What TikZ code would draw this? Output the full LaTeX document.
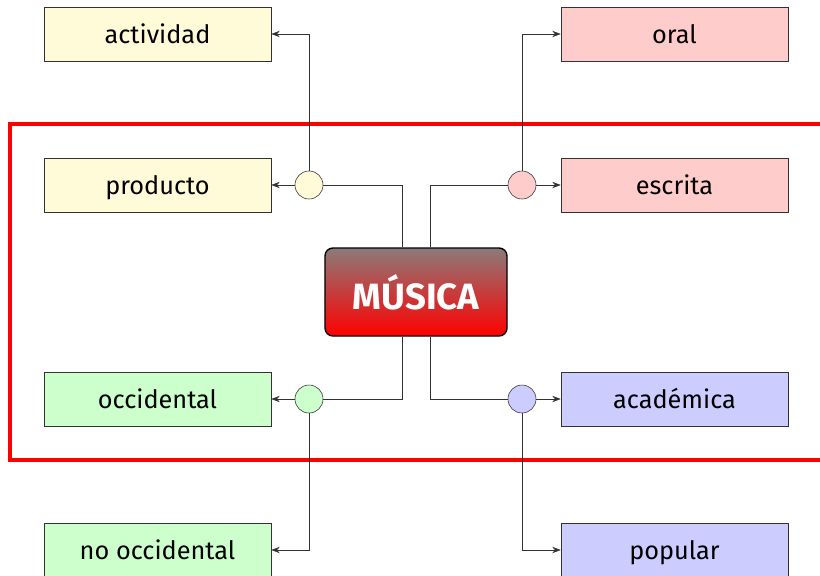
\documentclass[tikz,border=0pt]{standalone}
\usepackage{fontspec}
\setmainfont{Fira Sans}
\usepackage{tikz}
\usetikzlibrary{arrows.meta, positioning}

\definecolor{amarillo}{RGB}{255,250,215}
\definecolor{rosa}{RGB}{255,204,204}
\definecolor{verde}{RGB}{204,255,204}
\definecolor{azul}{RGB}{204,204,255}
\definecolor{gristop}{RGB}{140,122,122}
\definecolor{linea}{RGB}{50,50,50}

\tikzset{
    caja/.style={draw=linea, minimum width=5.675cm, minimum height=1.35cm,
        font=\fontsize{18}{21}\selectfont, inner sep=0pt,
        text height=13pt, text depth=0pt},
    nudo/.style={draw=linea, circle, minimum size=0.7cm, inner sep=0pt},
    flecha/.style={-{Stealth[length=6pt,width=4.5pt]}, draw=linea},
    enlace/.style={draw=linea},
}

\begin{document}
\begin{tikzpicture}[x=0.025cm, y=-0.025cm]
    \useasboundingbox (0,0) rectangle (820,575);
    % marco rojo
    \draw[red, line width=2.2pt] (10,124) rectangle (860,460);
    % nodo central
    \node[draw=black, line width=1pt, rounded corners=0.2cm,
        top color=gristop, bottom color=red, text=white,
        minimum width=4.55cm, minimum height=2.2cm,
        font=\fontsize{26}{30}\selectfont\bfseries] (musica) at (416,292) {MÚSICA};
    % cajas izquierda
    \node[caja, fill=amarillo] (actividad) at (157.5,34) {actividad};
    \node[caja, fill=amarillo] (producto) at (157.5,185) {producto};
    \node[caja, fill=verde] (occidental) at (157.5,399) {occidental};
    \node[caja, fill=verde] (noocc) at (157.5,550) {no occidental};
    % cajas derecha
    \node[caja, fill=rosa] (oral) at (674.5,34) {oral};
    \node[caja, fill=rosa] (escrita) at (674.5,185) {escrita};
    \node[caja, fill=azul] (academica) at (674.5,399) {académica};
    \node[caja, fill=azul] (popular) at (674.5,550) {popular};
    % nudos
    \node[nudo, fill=amarillo] (n1) at (309,185) {};
    \node[nudo, fill=rosa] (n2) at (522,185) {};
    \node[nudo, fill=verde] (n3) at (309,399) {};
    \node[nudo, fill=azul] (n4) at (522,399) {};
    % enlaces
    \draw[enlace] ([xshift=-0.35cm]musica.north) |- (n1);
    \draw[enlace] ([xshift=0.35cm]musica.north) |- (n2);
    \draw[enlace] ([xshift=-0.35cm]musica.south) |- (n3);
    \draw[enlace] ([xshift=0.35cm]musica.south) |- (n4);
    \draw[flecha] (n1) -- (producto);
    \draw[flecha] (n1) |- (actividad);
    \draw[flecha] (n2) -- (escrita);
    \draw[flecha] (n2) |- (oral);
    \draw[flecha] (n3) -- (occidental);
    \draw[flecha] (n3) |- (noocc);
    \draw[flecha] (n4) -- (academica);
    \draw[flecha] (n4) |- (popular);
\end{tikzpicture}
\end{document}
